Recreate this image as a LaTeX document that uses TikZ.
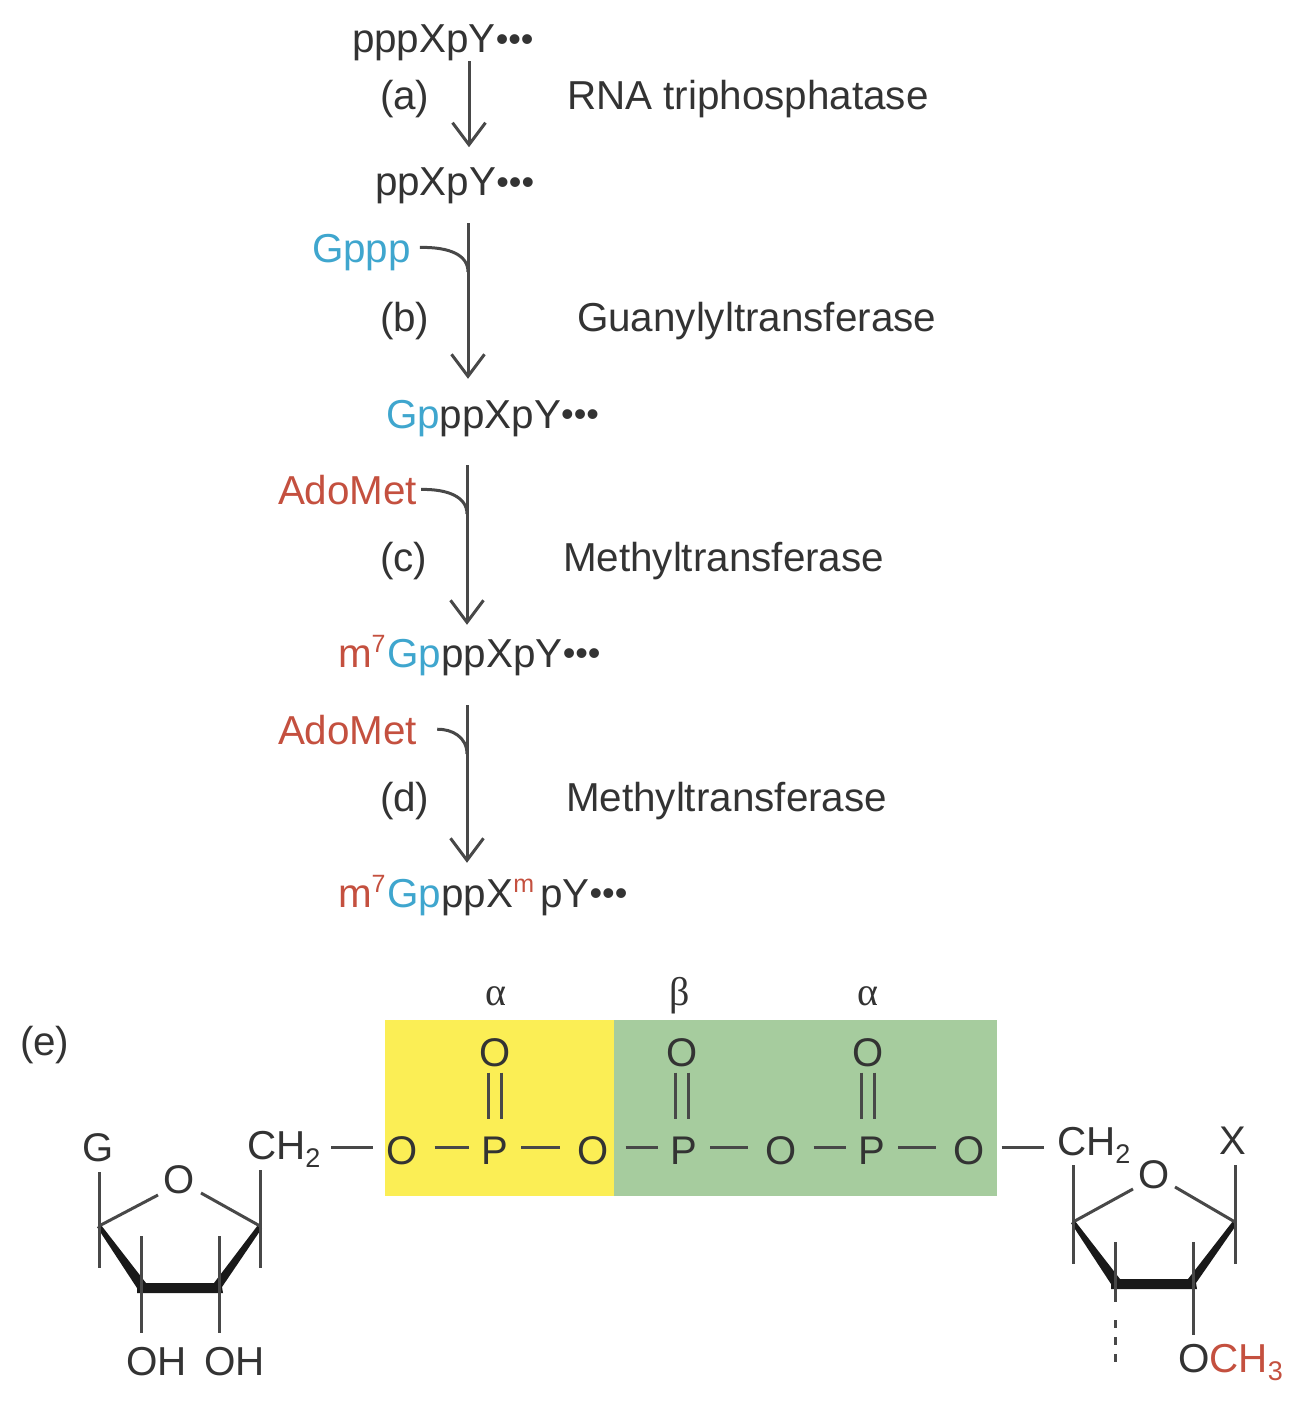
\documentclass[tikz,border=0pt]{standalone}
\usepackage{fontspec}
\setmainfont{Liberation Sans}
\newfontfamily\grk{Liberation Serif}
\usetikzlibrary{arrows.meta,calc}
\definecolor{ink}{HTML}{333333}
\definecolor{lineink}{HTML}{484848}
\definecolor{capblue}{HTML}{3FA6CE}
\definecolor{capred}{HTML}{C4503F}
\definecolor{yel}{HTML}{FBEE55}
\definecolor{grn}{HTML}{A6CC9E}
\newcommand{\dts}{{\fontsize{36}{36}\selectfont\raisebox{1.5pt}{•••}}}
\newcommand{\supr}[1]{\smash{\raisebox{15pt}{\fontsize{25}{25}\selectfont #1}}}
\newcommand{\subr}[1]{\smash{\raisebox{-8pt}{\fontsize{27}{27}\selectfont #1}}}
\newcommand{\bl}[1]{\textcolor{capblue}{#1}}
\newcommand{\rd}[1]{\textcolor{capred}{#1}}
\tikzset{
  txt/.style={inner sep=0pt,outer sep=0pt,anchor=base west,text=ink,font=\fontsize{40.4}{48}\selectfont},
  side/.style={txt,text height=29pt,text depth=0pt},
  atomO/.style={inner ysep=0pt,inner xsep=17pt,outer sep=0pt,text=ink,font=\fontsize{40}{48}\selectfont,text height=29pt,text depth=0pt},
  atomP/.style={atomO,inner xsep=13pt},
  bond/.style={line width=3pt,draw=lineink},
  arr/.style={line width=3pt,draw=lineink,-{Straight Barb[length=22pt,width=33pt,line width=3pt]}},
  feed/.style={line width=3pt,draw=lineink},
  wedge/.style={fill=black!90,draw=none},
  greek/.style={inner sep=0pt,anchor=base,text=ink,font=\grk\fontsize{40}{46}\selectfont}
}
\begin{document}
\begin{tikzpicture}[x=1pt,y=-1pt]
\useasboundingbox (0,0) rectangle (1310,1415);
% ---- reaction steps
\node[txt] (s1) at (352,53) {pppXpY\dts};
\node[txt] (s2) at (375,196) {ppXpY\dts};
\node[txt] (s3) at (386,428) {\bl{Gp}ppXpY\dts};
\node[txt] (s4) at (338,667) {\rd{m\supr{7}}\kern2pt\bl{Gp}ppXpY\dts};
\node[txt] (s5) at (338,907) {\rd{m\supr{7}}\kern2pt\bl{Gp}ppX\rd{\supr{m}}\kern6pt pY\dts};
\node[side,text=capblue] (gppp) at (312,262) {Gppp};
\node[side,text=capred] (ado1) at (278,504) {AdoMet};
\node[side,text=capred] (ado2) at (278,744) {AdoMet};
\node[txt] (la) at (380,110) {(a)};
\node[txt] (lb) at (380,331) {(b)};
\node[txt] (lc) at (380,571) {(c)};
\node[txt] (ld) at (380,811) {(d)};
\node[txt] (le) at (20,1055) {(e)};
\node[txt] (e1) at (567,110) {RNA triphosphatase};
\node[txt] (e2) at (577,331) {Guanylyltransferase};
\node[txt] (e3) at (563,571) {Methyltransferase};
\node[txt] (e4) at (566,811) {Methyltransferase};
% ---- arrows
\coordinate (x1) at (469,100);
\coordinate (x2) at (468,300);
\coordinate (x3) at (467,540);
\coordinate (x4) at (467,780);
\draw[arr,shorten >=21pt] (s1.south -| x1) -- (s2.north -| x1);
\draw[arr,shorten <=19pt,shorten >=21pt] (s2.south -| x2) -- (s3.north -| x2);
\draw[arr,shorten <=29pt,shorten >=14pt] (s3.south -| x3) -- (s4.north -| x3);
\draw[arr,shorten <=30pt,shorten >=16pt] (s4.south -| x4) -- (s5.north -| x4);
\coordinate (j2) at (468,272);
\coordinate (j3) at (467,514);
\coordinate (j4) at (467,754);
\draw[feed,shorten <=9pt] (gppp.east) .. controls (450,247) and (468,255) .. (j2);
\draw[feed,shorten <=4pt] (ado1.east) .. controls (448,489) and (467,497) .. (j3);
\draw[feed,shorten <=20pt] (ado2.east) .. controls (452,729) and (467,737) .. (j4);
% ---- phosphate bridge
\fill[yel] (385,1020) rectangle (614,1196);
\fill[grn] (614,1020) rectangle (997,1196);
\node[greek] (ga1) at (496,1005) {α};
\node[greek] (gb) at (680,1005) {β};
\node[greek] (ga2) at (868,1005) {α};
\node[atomO] (o1) at (402,1150) {O};
\node[atomP] (p1) at (495,1150) {P};
\node[atomO] (o2) at (593,1150) {O};
\node[atomP] (p2) at (684,1150) {P};
\node[atomO] (o3) at (781,1150) {O};
\node[atomP] (p3) at (872,1150) {P};
\node[atomO] (o4) at (969,1150) {O};
\node[atomO,inner sep=0pt] (d1) at (495,1052) {O};
\node[atomO,inner sep=0pt] (d2) at (682,1052) {O};
\node[atomO,inner sep=0pt] (d3) at (868,1052) {O};
\foreach \a/\b in {o1/p1,p1/o2,o2/p2,p2/o3,o3/p3,p3/o4}{\draw[bond] ([yshift=3pt]\a.east) -- ([yshift=3pt]\b.west);}
\foreach \d/\p in {d1/p1,d2/p2,d3/p3}{
  \draw[bond,shorten <=6pt,shorten >=17pt] ([xshift=-6.5pt]\d.south) -- ([xshift=-6.5pt]\d.south |- \p.north);
  \draw[bond,shorten <=6pt,shorten >=17pt] ([xshift=6.5pt]\d.south) -- ([xshift=6.5pt]\d.south |- \p.north);
}
% ---- left sugar
\node[atomO,inner sep=0pt] (lG) at (98,1147) {G};
\node[txt] (lch) at (247,1159) {CH\subr{2}};
\node[atomO,inner sep=0pt] (lO) at (179,1179) {O};
\node[txt] (loh1) at (126,1375) {OH};
\node[txt] (loh2) at (204,1375) {OH};
\coordinate (lL) at (99,1226);
\coordinate (lR) at (260,1226);
\coordinate (lBL) at (141,1288);
\coordinate (lBR) at (219,1288);
\draw[bond,shorten <=11pt,shorten >=-4pt] ([yshift=3pt]lch.east |- o1.west) -- ([yshift=3pt]o1.west);
\fill[wedge] (97,1227) -- (137,1288) -- (137,1293) -- (223,1293) -- (222,1287) -- (262,1228) -- (258,1225) -- (214,1283) -- (146,1283) -- (101,1225) -- cycle;
\draw[bond] (lL) -- ++(0,-54);
\draw[bond] (lL) -- ++(0,42);
\draw[bond] (lR) -- ++(0,-56);
\draw[bond] (lR) -- ++(0,42);
\draw[bond] (141,1236) -- (141,1333);
\draw[bond] (219,1236) -- (219,1333);
\draw[bond] (lL) -- (158,1195);
\draw[bond] (201,1193) -- (lR);
% ---- right sugar
\node[txt] (rch) at (1057,1155) {CH\subr{2}};
\node[atomO,inner sep=0pt] (rX) at (1233,1140) {X};
\node[atomO,inner sep=0pt] (rO) at (1154,1174) {O};
\node[txt] (roc) at (1178,1372) {O\rd{CH\subr{3}}};
\coordinate (rL) at (1073,1222);
\coordinate (rR) at (1235,1222);
\coordinate (rBL) at (1115,1284);
\coordinate (rBR) at (1193,1284);
\draw[bond,shorten >=13pt] ([yshift=3pt]o4.east) -- ([yshift=3pt]o4.east -| rch.west);
\fill[wedge] (1071,1223) -- (1111,1284) -- (1111,1289) -- (1197,1289) -- (1196,1283) -- (1237,1224) -- (1233,1221) -- (1188,1279) -- (1120,1279) -- (1075,1221) -- cycle;
\draw[bond] (rL) -- ++(0,-57);
\draw[bond] (rL) -- ++(0,42);
\draw[bond] (rR) -- ++(0,-57);
\draw[bond] (rR) -- ++(0,42);
\draw[bond] (1115,1242) -- (rBL);
\draw[bond] (rBL) -- (1115,1302);
\draw[bond,dash pattern=on 8pt off 9pt] (1115,1320) -- (1115,1370);
\draw[bond] (1193,1242) -- (1193,1335);
\draw[bond] (rL) -- (1133,1189);
\draw[bond] (1175,1187) -- (rR);
\end{tikzpicture}
\end{document}
